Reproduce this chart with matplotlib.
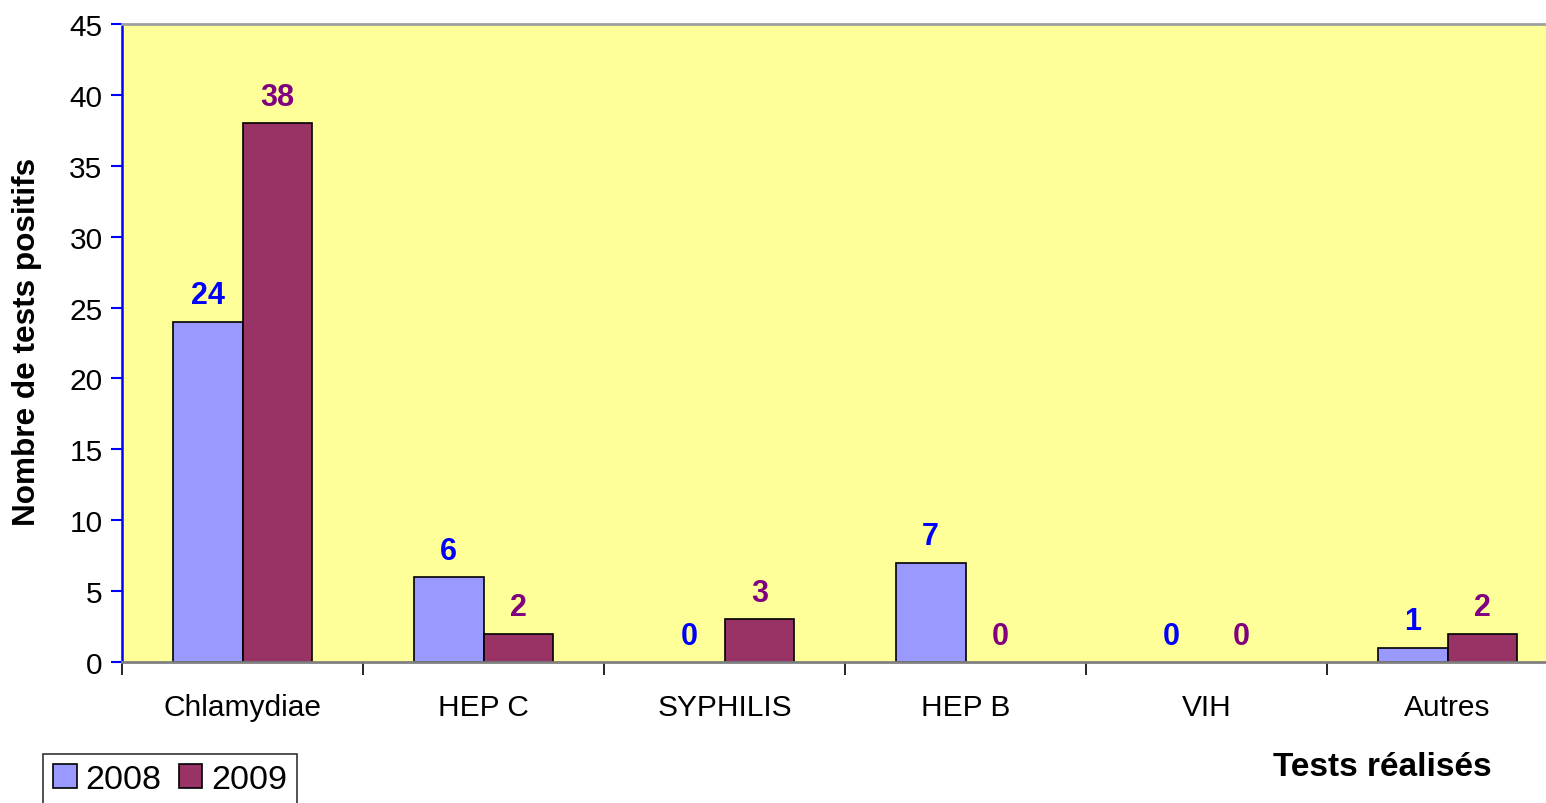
import numpy as np
from matplotlib import pyplot as plt

categories = ["Chlamydiae", "HEP C", "SYPHILIS", "HEP B", "VIH", "Autres"]
values_2008 = [24, 6, 0, 7, 0, 1]
values_2009 = [38, 2, 3, 0, 0, 2]
series_names = ["2008", "2009"]

plt.rcParams['font.family'] = ['Liberation Sans', 'DejaVu Sans']

fig = plt.figure(figsize=(15.46, 8.04), dpi=100)
# plot area runs past the right edge of the picture, as in the original
ax = fig.add_axes([122 / 1546, 1 - 663 / 804, 1446 / 1546, 638 / 804])
ax.set_facecolor('#FFFF99')

x = np.arange(len(categories)) + 0.5
w = 0.29
lw1 = [1.2 if v > 0 else 0 for v in values_2008]
lw2 = [1.2 if v > 0 else 0 for v in values_2009]
bars1 = ax.bar(x - w / 2, values_2008, w, color='#9999FF', edgecolor='black', linewidth=lw1,
               label=series_names[0])
bars2 = ax.bar(x + w / 2, values_2009, w, color='#993366', edgecolor='black', linewidth=lw2,
               label=series_names[1])

for xi, v in zip(x - w / 2, values_2008):
    ax.text(xi, v + 0.8, str(v), ha='center', va='bottom', color='#0000FF',
            fontsize=22, fontweight='bold')
for xi, v in zip(x + w / 2, values_2009):
    ax.text(xi, v + 0.8, str(v), ha='center', va='bottom', color='#800080',
            fontsize=22, fontweight='bold')

ax.set_xlim(0, len(categories))
ax.set_ylim(0, 45)
ax.set_yticks(range(0, 46, 5))
ax.set_xticks(range(len(categories) + 1))
ax.set_xticklabels([])
ax.set_xticks(x, minor=True)
ax.set_xticklabels(categories, minor=True, fontsize=21.5)
ax.tick_params(axis='x', which='minor', length=0, pad=22)
ax.tick_params(axis='x', which='major', length=9, width=1.2, color='black', direction='out')
ax.tick_params(axis='y', length=8, width=1.5, color='#0000FF', labelsize=21.5, pad=6)

ax.spines['left'].set_color('#0000FF')
ax.spines['left'].set_linewidth(1.8)
ax.spines['bottom'].set_color('#808080')
ax.spines['bottom'].set_linewidth(2)
ax.spines['top'].set_color('#A0A0A0')
ax.spines['top'].set_linewidth(2)
ax.spines['right'].set_visible(False)

fig.text(27 / 1546, 1 - 342 / 804, "Nombre de tests positifs", rotation=90, ha='center',
         va='center', fontsize=22.7, fontweight='bold')
fig.text(1382 / 1546, 1 - 768 / 804, "Tests réalisés", ha='center', va='center',
         fontsize=24, fontweight='bold')

leg = fig.legend(handles=[bars1, bars2], labels=series_names, loc='lower left',
                 bbox_to_anchor=(43 / 1546, -2 / 804),
                 ncol=2, fontsize=24.5, frameon=True, fancybox=False, handlelength=0.7,
                 handleheight=0.7, handletextpad=0.25, columnspacing=0.5,
                 borderpad=0.3, borderaxespad=0)
leg.get_frame().set_edgecolor('black')
leg.get_frame().set_linewidth(1.2)

fig.savefig("out.png", dpi=100)
